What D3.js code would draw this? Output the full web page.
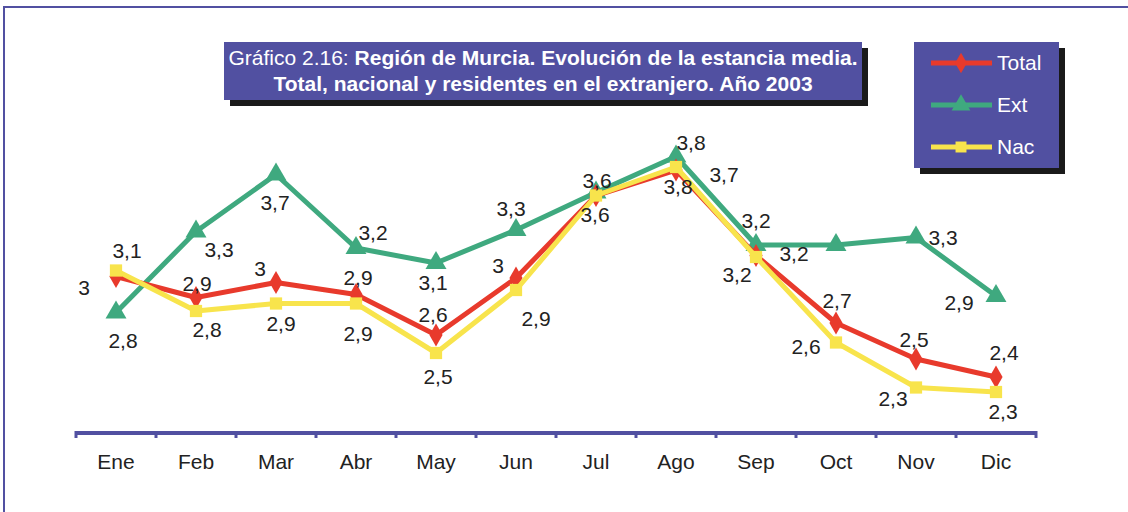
<!DOCTYPE html>
<html>
<head>
<meta charset="utf-8">
<script src="https://cdn.jsdelivr.net/npm/d3@7"></script>
<style>
  body { margin: 0; background: #fff; }
  svg text { font-family: "Liberation Sans", Arial, sans-serif; }
</style>
</head>
<body>
<svg id="chart" width="1128" height="512"></svg>
<script>
// Data
const months = ['Ene', 'Feb', 'Mar', 'Abr', 'May', 'Jun', 'Jul', 'Ago', 'Sep', 'Oct', 'Nov', 'Dic'];
const totalValues = [3.03, 2.89, 2.99, 2.91, 2.64, 3.02, 3.57, 3.74, 3.17, 2.72, 2.48, 2.36];
const extValues   = [2.79, 3.33, 3.71, 3.22, 3.12, 3.34, 3.59, 3.83, 3.24, 3.24, 3.29, 2.90];
const nacValues   = [3.07, 2.80, 2.85, 2.85, 2.52, 2.94, 3.57, 3.76, 3.16, 2.59, 2.29, 2.26];

// label offsets from each point (null = no label)
const totalLabelOffsets = [[-32, 11], [1, -14], [-16, -14], [2, -17], [-3, -20], [-18, -12], [-1, 19], [48, 5], [38, -2], [1, -22], [-2, -19], [8, -24]];
const extLabelOffsets   = [[7, 28], [23, 18], [-1, 28], [17, -15], [-3, 20], [-5, -21], [1, -12], [15, -14], [0, -24], null, [27, 0], [-37, 7]];
const nacLabelOffsets   = [[11, -20], [11, 19], [5, 20], [2, 30], [2, 24], [20, 29], null, [2, 20], [-19, 18], [-30, 4], [-23, 11], [7, 20]];

const series = [
  { name: 'Ext', values: extValues, offsets: extLabelOffsets, color: '#3fa97f', symbol: d3.symbolTriangle, size: 190 },
  { name: 'Total', values: totalValues, offsets: totalLabelOffsets, color: '#e83a2c', symbol: d3.symbolDiamond, size: 150 },
  { name: 'Nac', values: nacValues, offsets: nacLabelOffsets, color: '#f8e44c', symbol: d3.symbolSquare, size: 150 }
];
const legendOrder = ['Total', 'Ext', 'Nac'];

const svg = d3.select('#chart');
const purple = '#5150a1';

// outer frame
svg.append('path')
  .attr('d', 'M4,512 L4,7 L1128,7')
  .attr('fill', 'none')
  .attr('stroke', purple)
  .attr('stroke-width', 2);

let x = d3.scaleBand()
  .domain(months)
  .range([76, 1036]);

let y = d3.scaleLinear()
  .domain([2, 4])
  .range([431, 131]);

const cx = (m) => x(m) + x.bandwidth() / 2;

// axis
svg.append('line')
  .attr('x1', 76).attr('x2', 1036)
  .attr('y1', 433).attr('y2', 433)
  .attr('stroke', purple)
  .attr('stroke-width', 4);

const boundaries = months.map((m) => x(m)).concat([x.range()[1]]);
svg.selectAll('.tick-mark')
  .data(boundaries)
  .enter().append('line')
  .attr('class', 'tick-mark')
  .attr('x1', (d) => d).attr('x2', (d) => d)
  .attr('y1', 431).attr('y2', 438)
  .attr('stroke', purple)
  .attr('stroke-width', 3);

const axis = svg.append('g')
  .attr('transform', 'translate(0,433)')
  .call(d3.axisBottom(x).tickSize(0).tickPadding(21));
axis.select('.domain').remove();
axis.selectAll('.tick text')
  .attr('font-size', 21)
  .attr('fill', '#222')
  .style('font-family', '"Liberation Sans", Arial, sans-serif');

// lines and markers
const fmt = (v) => d3.format('.1f')(v).replace(/\.0$/, '').replace('.', ',');

series.forEach((s) => {
  const line = d3.line()
    .x((d, i) => cx(months[i]))
    .y((d) => y(d));

  svg.append('path')
    .datum(s.values)
    .attr('d', line)
    .attr('fill', 'none')
    .attr('stroke', s.color)
    .attr('stroke-width', 5)
    .attr('stroke-linejoin', 'round');

  svg.selectAll('.pt-' + s.name)
    .data(s.values)
    .enter().append('path')
    .attr('class', 'pt-' + s.name)
    .attr('d', d3.symbol().type(s.symbol).size(s.size))
    .attr('transform', (d, i) => 'translate(' + cx(months[i]) + ',' + y(d) + ')')
    .attr('fill', s.color);
});

// data labels
series.forEach((s) => {
  s.values.forEach((v, i) => {
    const off = s.offsets[i];
    if (off == null) return;
    svg.append('text')
      .attr('x', cx(months[i]) + off[0])
      .attr('y', y(v) + off[1])
      .attr('dy', '0.35em')
      .attr('text-anchor', 'middle')
      .attr('font-size', 21)
      .attr('fill', '#222')
      .text(fmt(v));
  });
});

// title box
svg.append('rect')
  .attr('x', 230).attr('y', 48).attr('width', 638).attr('height', 58)
  .attr('fill', '#1a1a1a');
svg.append('rect')
  .attr('x', 224).attr('y', 42).attr('width', 638).attr('height', 58)
  .attr('fill', purple);

const title1 = svg.append('text')
  .attr('x', 543).attr('y', 65)
  .attr('text-anchor', 'middle')
  .attr('font-size', 21)
  .attr('fill', '#fff');
title1.append('tspan').text('Gráfico 2.16: ');
title1.append('tspan').attr('font-weight', 'bold').text('Región de Murcia. Evolución de la estancia media.');

svg.append('text')
  .attr('x', 543).attr('y', 91)
  .attr('text-anchor', 'middle')
  .attr('font-size', 21)
  .attr('font-weight', 'bold')
  .attr('fill', '#fff')
  .text('Total, nacional y residentes en el extranjero. Año 2003');

// legend
svg.append('rect')
  .attr('x', 920).attr('y', 48).attr('width', 145).attr('height', 126)
  .attr('fill', '#1a1a1a');
svg.append('rect')
  .attr('x', 914).attr('y', 42).attr('width', 145).attr('height', 126)
  .attr('fill', purple);

legendOrder.forEach((name, i) => {
  const s = series.find((d) => d.name === name);
  const ly = 63 + i * 42;
  svg.append('line')
    .attr('x1', 931).attr('x2', 992)
    .attr('y1', ly).attr('y2', ly)
    .attr('stroke', s.color)
    .attr('stroke-width', 5);
  svg.append('path')
    .attr('d', d3.symbol().type(s.symbol).size(s.size * 0.8))
    .attr('transform', 'translate(961,' + ly + ')')
    .attr('fill', s.color);
  svg.append('text')
    .attr('x', 997).attr('y', ly)
    .attr('dy', '0.35em')
    .attr('font-size', 21)
    .attr('fill', '#fff')
    .text(name);
});
</script>
</body>
</html>
